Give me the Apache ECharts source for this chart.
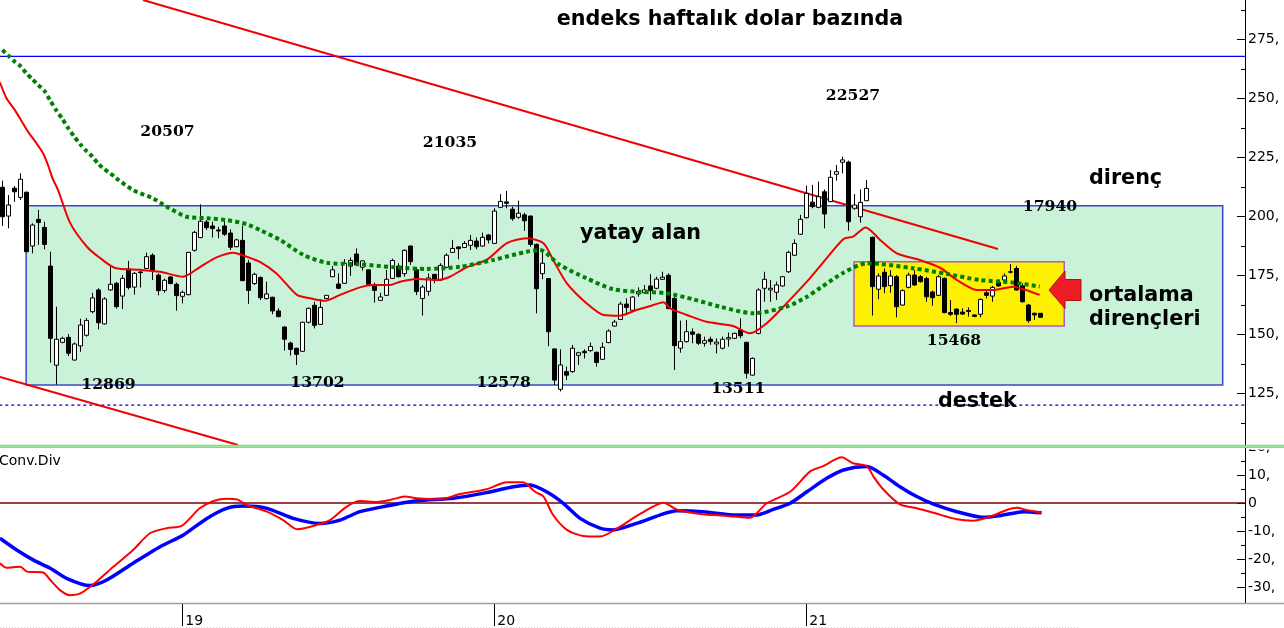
<!DOCTYPE html>
<html><head><meta charset="utf-8">
<script src="https://cdn.jsdelivr.net/npm/echarts@6/dist/echarts.min.js"></script>
<style>html,body{margin:0;padding:0;background:#fff;overflow:hidden}#c{width:1284px;height:628px}</style>
</head><body><div id="c"></div>
<script>
// ---------- DATA ----------
// weekly candles: [open, close, low, high]
const weeklyOHLC = [
[212.3,199.8,195.9,215.1],[200.1,204.8,194.9,209.0],[211.9,210.4,206.2,212.8],[208.0,215.7,206.9,218.2],
[210.2,185.0,184.8,210.5],[187.4,196.3,184.3,197.0],[198.7,197.4,187.9,202.7],[195.3,188.1,186.0,197.7],
[178.9,148.3,138.0,185.0],[136.9,147.9,128.7,161.7],[146.6,148.3,146.2,149.0],[148.7,142.0,140.8,150.1],
[139.1,145.9,138.8,146.5],[145.1,153.9,142.6,156.6],[149.6,155.9,149.0,156.9],[159.6,165.4,158.9,167.6],
[168.8,154.9,152.1,169.5],[154.4,165.0,154.2,165.7],[168.8,171.2,168.5,178.7],[171.6,161.7,160.9,172.2],
[166.2,173.7,160.7,175.1],[177.7,169.8,169.0,181.1],[170.0,175.8,166.8,176.4],[176.4,176.1,169.8,176.8],
[177.9,182.9,177.7,184.6],[183.5,177.2,173.0,184.3],[175.1,168.5,166.5,175.8],[168.6,172.9,167.6,173.6],
[174.3,171.5,171.2,174.7],[171.2,166.4,160.0,171.9],[166.1,167.8,163.1,168.5],[166.8,184.7,166.5,184.9],
[185.6,193.2,185.0,193.8],[191.0,197.9,190.7,205.1],[197.6,195.2,194.2,198.4],[195.9,194.8,191.0,197.7],
[194.2,193.8,190.7,195.6],[195.9,192.4,191.7,198.4],[192.9,186.9,185.7,194.5],[187.1,190.0,186.9,190.5],
[189.8,172.7,172.6,196.0],[180.2,168.6,162.9,181.5],[171.5,175.4,170.9,176.1],[174.1,165.5,164.5,174.5],
[165.1,167.1,164.8,172.3],[165.7,159.9,158.5,165.9],[159.9,157.5,157.2,161.0],[153.1,147.9,143.1,153.4],
[146.3,143.6,141.0,146.9],[144.1,141.5,137.0,144.3],[142.8,155.1,142.5,155.3],[155.1,161.0,154.6,161.3],
[162.3,153.8,152.5,163.8],[154.2,161.4,154.1,164.8],[165.2,166.5,165.0,166.6],[174.4,177.3,174.2,178.9],
[171.3,169.5,169.1,175.8],[171.6,180.1,171.4,181.9],[178.9,181.3,174.8,182.5],[184.0,179.4,178.9,186.4],
[178.4,181.1,177.0,181.5],[177.3,171.2,171.0,177.5],[170.5,168.6,163.4,171.9],[164.4,165.8,164.2,167.6],
[166.5,173.3,166.3,177.3],[173.7,181.3,173.4,182.0],[178.9,174.4,174.1,180.1],[175.7,185.6,174.4,186.0],
[187.4,180.8,179.4,187.6],[177.3,168.1,166.6,178.4],[165.2,170.0,157.9,170.9],[168.2,173.9,166.4,175.8],
[175.4,173.0,171.6,175.6],[173.0,179.2,172.6,180.1],[178.4,183.5,178.0,184.3],[184.7,186.4,184.6,190.0],
[187.0,186.3,181.8,187.4],[186.8,188.5,186.6,189.5],[187.7,189.8,185.7,192.1],[189.5,187.1,186.0,191.0],
[187.4,191.1,187.1,193.1],[192.1,190.0,188.5,192.5],[188.5,202.2,188.3,203.4],[203.8,206.3,203.5,209.4],
[206.1,205.5,203.4,210.7],[203.0,199.0,198.1,204.1],[199.6,201.3,198.9,206.6],[200.6,198.1,193.8,201.5],
[200.1,188.1,187.1,200.3],[188.1,169.3,158.9,188.5],[175.7,180.1,173.3,186.1],[173.6,151.1,145.0,173.7],
[143.8,130.6,128.5,144.1],[126.7,137.0,125.8,143.6],[134.2,132.7,130.6,136.3],[134.2,144.1,133.7,145.5],
[141.1,142.2,137.0,142.6],[142.8,142.2,139.8,143.6],[143.1,144.8,142.6,146.5],[142.4,138.1,136.3,142.6],
[139.4,144.5,139.1,146.5],[146.5,151.4,146.2,152.1],[153.5,155.2,153.2,156.1],[156.3,162.8,156.1,163.8],
[162.8,161.4,158.2,165.2],[160.2,165.8,159.6,166.2],[167.1,168.1,165.9,169.9],[167.6,168.8,167.3,170.9],
[170.5,168.5,164.5,175.5],[169.5,173.4,169.1,174.4],[173.3,174.2,173.0,176.5],[175.0,160.9,160.6,175.8],
[165.2,145.2,134.9,165.9],[144.1,146.9,142.2,155.8],[146.9,151.1,146.5,156.1],[151.0,150.0,146.2,152.5],
[150.0,146.2,145.5,150.4],[146.2,147.3,144.8,149.0],[147.9,146.9,145.5,149.0],[145.9,146.7,141.9,148.3],
[144.1,147.9,143.6,149.0],[148.0,148.6,144.8,150.7],[148.3,150.4,148.0,150.7],[151.8,149.4,148.3,156.8],
[146.6,133.5,131.3,146.8],[132.7,139.8,132.5,140.2],[150.4,168.8,150.0,169.5],[169.5,173.3,163.8,176.5],
[168.8,169.5,163.8,173.0],[167.8,170.9,164.5,172.3],[170.5,174.4,170.2,174.7],[176.5,184.7,176.0,185.4],
[183.5,188.5,183.2,190.2],[192.4,198.7,192.1,200.6],[199.4,209.7,199.1,213.0],[206.0,204.1,203.4,213.3],
[203.8,208.3,203.4,214.7],[210.4,201.0,194.9,211.4],[206.2,216.5,206.0,219.6],[217.8,218.9,215.1,221.7],
[222.9,223.9,218.2,225.3],[223.0,197.7,193.9,223.6],[203.4,204.8,202.7,209.4],[199.8,205.9,197.3,211.4],
[206.6,211.8,206.5,215.4],[191.1,170.2,157.9,191.4],[169.1,174.7,164.8,175.8],[176.3,170.2,167.4,177.9],
[170.6,174.7,167.6,177.2],[174.4,161.7,157.2,175.1],[162.4,168.5,162.1,169.1],[169.9,175.1,169.5,176.1],
[175.1,170.9,170.6,177.2],[174.4,172.3,171.9,175.1],[173.6,165.9,163.8,174.4],[167.9,165.5,162.1,168.5],
[166.5,174.4,166.2,175.1],[173.7,159.2,158.9,174.1],[159.2,158.5,157.8,164.5],[160.7,158.5,154.7,161.0],
[159.4,158.6,158.2,161.0],[160.1,159.7,157.5,161.4],[158.2,157.6,157.2,158.4],[158.5,164.8,157.2,165.1],
[167.6,166.5,165.2,168.8],[166.2,169.9,163.8,170.5],[171.9,170.5,170.2,173.3],[173.0,174.7,172.7,175.8],
[176.3,176.5,175.8,179.8],[177.9,168.8,168.5,179.0],[170.5,163.8,163.4,171.6],[162.4,155.8,154.9,162.8],
[158.9,158.2,156.1,159.2],[158.9,157.2,157.0,158.9]
];
const weekCount = 208;                 // weekly slots on the time axis (incl. empty future)
const yearTickWeeks = [30, 82, 134];   // first week of each year
const yearTickLabels = ['19', '20', '21'];

// moving averages [weekIndex, value]
const maShort = [[-0.4,256.8],[0.7,250.0],[2.1,245.0],[4.1,236.6],[5.7,230.9],[6.8,226.7],[7.7,221.1],[8.4,215.9],[9.3,211.1],[11.3,197.2],[14.1,187.1],[16.3,182.3],[18.8,178.1],[23.0,177.3],[26.3,176.5],[30.1,174.4],[33.0,178.6],[35.7,182.6],[38.5,184.6],[40.7,182.9],[43.0,180.6],[45.7,175.8],[49.1,166.7],[51.3,165.3],[53.8,164.2],[56.3,166.7],[59.6,169.9],[61.8,170.9],[64.6,170.9],[66.3,172.3],[69.1,173.4],[72.4,173.0],[74.6,174.4],[77.4,178.4],[80.7,181.5],[84.1,188.6],[87.4,190.7],[90.2,188.6],[91.8,181.5],[94.1,171.6],[97.4,163.1],[100.2,158.2],[102.9,157.9],[105.7,160.3],[108.5,162.4],[110.2,163.6],[111.3,161.0],[114.1,158.2],[117.4,155.3],[121.8,153.5],[124.6,150.4],[127.4,154.7],[130.7,163.1],[134.1,172.3],[136.3,178.9],[140.2,190.4],[141.8,191.4],[143.9,195.3],[146.3,190.0],[149.1,184.3],[152.9,181.5],[156.3,178.2],[159.1,173.0],[162.4,168.8],[165.2,168.8],[168.5,170.2],[170.2,169.1],[172.9,166.7]];
const maLong = [[0,270.5],[1,268.1],[2,265.7],[3,263.7],[4,260.6],[5,258.1],[6,255.6],[7,253.2],[8,249.0],[9,244.9],[10,241.3],[11,237.3],[12,233.7],[13,230.5],[14,227.7],[15,225.3],[16,222.2],[17,220.0],[18,218.2],[19,216.1],[21.8,211.1],[25.1,207.6],[27.4,204.1],[30.7,199.8],[34.1,199.2],[37.4,198.4],[40.7,196.7],[43.0,194.1],[46.3,190.0],[50.2,183.6],[54.1,180.3],[59.6,179.7],[65.2,178.4],[70.7,177.7],[76.3,178.6],[81.8,181.5],[87.4,185.0],[89.6,185.7],[92.9,179.4],[97.4,173.7],[101.8,169.1],[106.3,168.0],[110.7,167.4],[115.2,164.8],[119.6,161.7],[125.2,158.9],[130.7,161.7],[134.1,165.9],[136.3,169.6],[140.2,176.1],[144.1,180.1],[146.3,179.8],[151.8,178.0],[157.4,175.6],[162.9,173.0],[168.5,171.9],[172.9,170.2]];

// MACD (Conv.Div) [weekIndex, value]
const macdLine = [[-0.4,-21.5],[0.7,-23.1],[3.0,-22.8],[4.1,-24.5],[6.8,-24.8],[8.0,-27.5],[9.6,-31.1],[11.3,-32.9],[13.0,-32.3],[15.7,-28.1],[18.5,-22.8],[21.8,-16.8],[24.6,-10.8],[27.4,-9.0],[29.9,-8.2],[32.9,-1.9],[35.2,0.7],[37.4,1.5],[39.1,1.3],[40.7,-0.7],[44.1,-3.1],[46.8,-6.1],[49.1,-9.4],[51.8,-8.2],[54.6,-6.1],[57.4,-1.3],[59.6,0.7],[62.4,0.4],[64.6,1.1],[67.1,2.3],[69.1,1.7],[72.9,1.3],[76.3,3.2],[80.7,4.9],[84.1,7.4],[86.8,7.4],[88.8,4.0],[90.2,2.3],[91.8,-4.3],[94.1,-9.6],[96.8,-11.8],[99.6,-12.0],[102.9,-8.5],[106.3,-3.9],[110.2,0.1],[112.4,-2.3],[116.3,-3.9],[120.7,-4.6],[124.6,-5.3],[127.4,-0.1],[131.3,4.0],[134.6,11.2],[136.8,13.2],[139.9,16.3],[141.8,14.2],[144.1,13.2],[145.2,9.4],[146.8,4.9],[149.6,-0.5],[152.4,-1.9],[155.2,-3.5],[159.1,-5.8],[161.8,-6.3],[164.6,-4.9],[167.4,-2.5],[169.1,-1.7],[170.7,-2.5],[173.2,-3.5]];
const signalLine = [[-0.4,-12.6],[2.4,-16.8],[5.2,-20.4],[8.0,-23.3],[10.7,-26.9],[14.6,-29.5],[17.4,-27.5],[21.8,-21.5],[26.3,-15.6],[30.2,-11.4],[34.1,-5.5],[37.4,-1.9],[40.2,-1.1],[44.1,-1.9],[48.5,-5.5],[52.9,-7.3],[56.3,-6.1],[59.6,-3.1],[63.5,-1.3],[69.1,0.8],[75.2,1.7],[80.7,3.7],[85.2,5.8],[88.0,6.4],[90.7,4.0],[93.5,-0.1],[96.3,-5.5],[99.6,-9.0],[101.8,-9.6],[105.7,-7.3],[109.6,-4.3],[112.4,-2.8],[116.8,-3.1],[122.4,-4.3],[125.7,-4.3],[128.5,-2.3],[131.3,-0.1],[134.1,4.0],[137.4,8.8],[140.2,11.8],[144.1,13.0],[146.8,10.0],[149.6,5.8],[152.4,2.3],[155.2,-0.4],[159.1,-3.1],[163.5,-5.1],[166.8,-4.3],[170.2,-3.1],[173.2,-3.5]];

// annotation geometry in data units
const rangeZone = [3.97, 128.5, 203.4, 204.5];     // [week0, low, week1, high]
const maZone = [141.95, 153.5, 176.99, 180.76];
const downTrend = [[23.45, 291.65], [165.95, 186.14]];
const lowerTrend = [[-0.38, 131.9], [39.28, 103.1]];
const topLevel = 267.8;
const supportLevel = 120;

// axis tick values
const priceTicks = [125, 150, 175, 200, 225, 250, 275];
const priceMinorTicks = [112.5, 137.5, 162.5, 187.5, 212.5, 237.5, 262.5, 287.5];
const macdTicks = [-30, -20, -10, 0, 10, 20];
const macdMinorTicks = [-25, -15, -5, 5, 15];

// ---------- CHART ----------
const weeks = Array.from({length: weekCount}, (_, i) => 'w' + i);
const chart = echarts.init(document.getElementById('c'), null, {renderer: 'canvas'});
const gridLeft = -0.7, gridW = 1248;
const sansBold = "bold 20.7px 'DejaVu Sans'";
const serifBold = "bold 15.6px 'DejaVu Serif'";
const isYearTick = (i) => yearTickWeeks.indexOf(i) >= 0;

function rectSeries(zone, fill, stroke, z) {
  return {
    type: 'custom', xAxisIndex: 1, yAxisIndex: 0, z: z, silent: true, clip: false,
    data: [zone],
    renderItem: function (params, api) {
      const a = api.coord([api.value(0), api.value(3)]);
      const b = api.coord([api.value(2), api.value(1)]);
      return {type: 'rect', shape: {x: a[0], y: a[1], width: b[0] - a[0], height: b[1] - a[1]},
        style: {fill: fill, stroke: stroke, lineWidth: 1.5}};
    }
  };
}
function lineSeries(data, xi, yi, color, width, type, z, smooth) {
  return {type: 'line', xAxisIndex: xi, yAxisIndex: yi, data: data, symbol: 'none', smooth: smooth || false,
    silent: true, z: z, lineStyle: {color: color, width: width, type: type || 'solid', cap: 'butt'}};
}

const labelText = [
  ['endeks haftalık dolar bazında', 730, 20, sansBold, 'center'],
  ['yatay alan', 580, 234, sansBold, 'left'],
  ['direnç', 1089, 179, sansBold, 'left'],
  ['ortalama', 1089, 296, sansBold, 'left'],
  ['dirençleri', 1089, 320, sansBold, 'left'],
  ['destek', 938, 402, sansBold, 'left'],
  ['20507', 167.5, 132, serifBold, 'center'],
  ['21035', 450, 143, serifBold, 'center'],
  ['22527', 853, 96, serifBold, 'center'],
  ['12869', 108.5, 385, serifBold, 'center'],
  ['13702', 317.5, 382.5, serifBold, 'center'],
  ['12578', 503.7, 382.5, serifBold, 'center'],
  ['13511', 738.3, 389, serifBold, 'center'],
  ['15468', 954, 341, serifBold, 'center'],
  ['17940', 1050, 207, serifBold, 'center'],
  ['Conv.Div', -1, 461, "14px 'DejaVu Sans'", 'left']
];

const option = {
  animation: false,
  backgroundColor: '#ffffff',
  grid: [
    {left: gridLeft, top: 0, width: gridW, height: 446, outerBoundsMode: 'none', containLabel: false},
    {left: gridLeft, top: 447, width: gridW, height: 156, outerBoundsMode: 'none', containLabel: false}
  ],
  xAxis: [
    {gridIndex: 0, type: 'category', data: weeks, boundaryGap: true, show: false, position: 'bottom',
      axisLine: {onZero: false}},
    {gridIndex: 0, type: 'value', min: -0.5, max: weekCount - 0.5, show: false, position: 'top',
      axisLine: {onZero: false}, splitLine: {show: false}},
    {gridIndex: 1, type: 'category', data: weeks, boundaryGap: true, position: 'bottom',
      axisLine: {show: false, onZero: false},
      axisTick: {show: true, alignWithLabel: true, interval: isYearTick, length: 23,
        lineStyle: {color: '#000', width: 1}},
      axisLabel: {interval: isYearTick, align: 'left', margin: 11, padding: [0, 0, 0, 3],
        fontSize: 14, fontFamily: 'DejaVu Sans', color: '#000',
        formatter: function (v, i) { const k = yearTickWeeks.indexOf(i); return k >= 0 ? yearTickLabels[k] : ''; }},
      splitLine: {show: false}},
    {gridIndex: 1, type: 'value', min: -0.5, max: weekCount - 0.5, show: false, position: 'top',
      axisLine: {onZero: false}, splitLine: {show: false}}
  ],
  yAxis: [
    {gridIndex: 0, type: 'value', position: 'right', offset: -2.3, min: 102.67, max: 291.65,
      splitLine: {show: false},
      axisLine: {show: true, onZero: false, lineStyle: {color: '#000', width: 1}},
      axisTick: {show: true, inside: true, length: 8, customValues: priceTicks, lineStyle: {color: '#000'}},
      axisLabel: {customValues: priceTicks, formatter: function (v) { return v + ','; }, margin: 3,
        padding: [8, 0, 0, 0], fontSize: 14, fontFamily: 'DejaVu Sans', color: '#000'}},
    {gridIndex: 0, type: 'value', position: 'right', offset: -2.3, min: 102.67, max: 291.65,
      splitLine: {show: false}, axisLine: {show: false, onZero: false},
      axisTick: {show: true, inside: true, length: 4, customValues: priceMinorTicks, lineStyle: {color: '#000'}},
      axisLabel: {show: false}},
    {gridIndex: 1, type: 'value', position: 'right', offset: -2.3, min: -35.71, max: 20,
      splitLine: {show: false},
      axisLine: {show: true, onZero: false, lineStyle: {color: '#000', width: 1}},
      axisTick: {show: true, inside: true, length: 8, customValues: macdTicks, lineStyle: {color: '#000'}},
      axisLabel: {customValues: macdTicks, formatter: function (v) { return v === 0 ? '0' : v + ','; },
        margin: 3, padding: [9, 0, 0, 0], fontSize: 14, fontFamily: 'DejaVu Sans', color: '#000'}},
    {gridIndex: 1, type: 'value', position: 'right', offset: -2.3, min: -35.71, max: 20,
      splitLine: {show: false}, axisLine: {show: false, onZero: false},
      axisTick: {show: true, inside: true, length: 4, customValues: macdMinorTicks, lineStyle: {color: '#000'}},
      axisLabel: {show: false}}
  ],
  series: [
    rectSeries(rangeZone, '#c9f2d9', '#3b47c9', 1),
    rectSeries(maZone, '#fdf000', '#b05ac8', 2),
    lineSeries([[-0.5, topLevel], [207.1, topLevel]], 1, 0, '#0000ff', 1.2, 'solid', 2),
    lineSeries([[-0.5, supportLevel], [207.1, supportLevel]], 1, 0, '#0000c8', 1.2, [3, 3], 2),
    lineSeries(downTrend, 1, 0, '#f00000', 2, 'solid', 2),
    lineSeries(lowerTrend, 1, 0, '#f00000', 2, 'solid', 2),
    {type: 'candlestick', xAxisIndex: 0, yAxisIndex: 0, data: weeklyOHLC, barWidth: 4, z: 3, silent: true,
      itemStyle: {color: '#ffffff', color0: '#000000', borderColor: '#000000', borderColor0: '#000000',
        borderColorDoji: '#000000', borderWidth: 1}},
    lineSeries(maShort, 1, 0, '#f00000', 2, 'solid', 4, 0.25),
    lineSeries(maLong, 1, 0, '#008000', 4, [4, 3.2], 4, 0.25),
    lineSeries([[-0.5, 0], [207.1, 0]], 3, 2, '#7a0000', 1.5, 'solid', 2),
    lineSeries(signalLine, 3, 2, '#0000ff', 3.5, 'solid', 3, 0.25),
    lineSeries(macdLine, 3, 2, '#ff0000', 2, 'solid', 4, 0.25)
  ],
  graphic: [
    // panel separators and frame lines
    {type: 'rect', z: 90, silent: true, shape: {x: 1246, y: 428, width: 40, height: 21.5}, style: {fill: '#fff'}},
    {type: 'rect', z: 90, silent: true, shape: {x: 1236, y: 449, width: 8.5, height: 7}, style: {fill: '#fff'}},
    {type: 'line', z: 91, silent: true, shape: {x1: 0, y1: 445.8, x2: 1284, y2: 445.8}, style: {stroke: '#7fe07f', lineWidth: 2}},
    {type: 'line', z: 91, silent: true, shape: {x1: 0, y1: 447.5, x2: 1284, y2: 447.5}, style: {stroke: '#b4b4b4', lineWidth: 1}},
    {type: 'line', z: 91, silent: true, shape: {x1: 0, y1: 603.5, x2: 1284, y2: 603.5}, style: {stroke: '#a0a0a0', lineWidth: 1.5}},
    {type: 'line', z: 91, silent: true, shape: {x1: 0, y1: 627.5, x2: 1080, y2: 627.5}, style: {stroke: '#d8d8d8', lineWidth: 1, lineDash: [1, 2]}},
    // arrow pointing at the moving averages
    {type: 'polygon', z: 92, silent: true,
      shape: {points: [[1049, 290], [1065, 271], [1065, 279.5], [1081, 279.5], [1081, 300.5], [1065, 300.5], [1065, 308.5]]},
      style: {fill: '#ed1c24', stroke: '#b01010', lineWidth: 1}}
  ].concat(labelText.map(function (t) {
    return {type: 'text', z: 95, silent: true,
      style: {text: t[0], x: t[1], y: t[2], font: t[3], fill: '#000', textAlign: t[4], textVerticalAlign: 'middle'}};
  }))
};
chart.setOption(option);
</script>
</body></html>
